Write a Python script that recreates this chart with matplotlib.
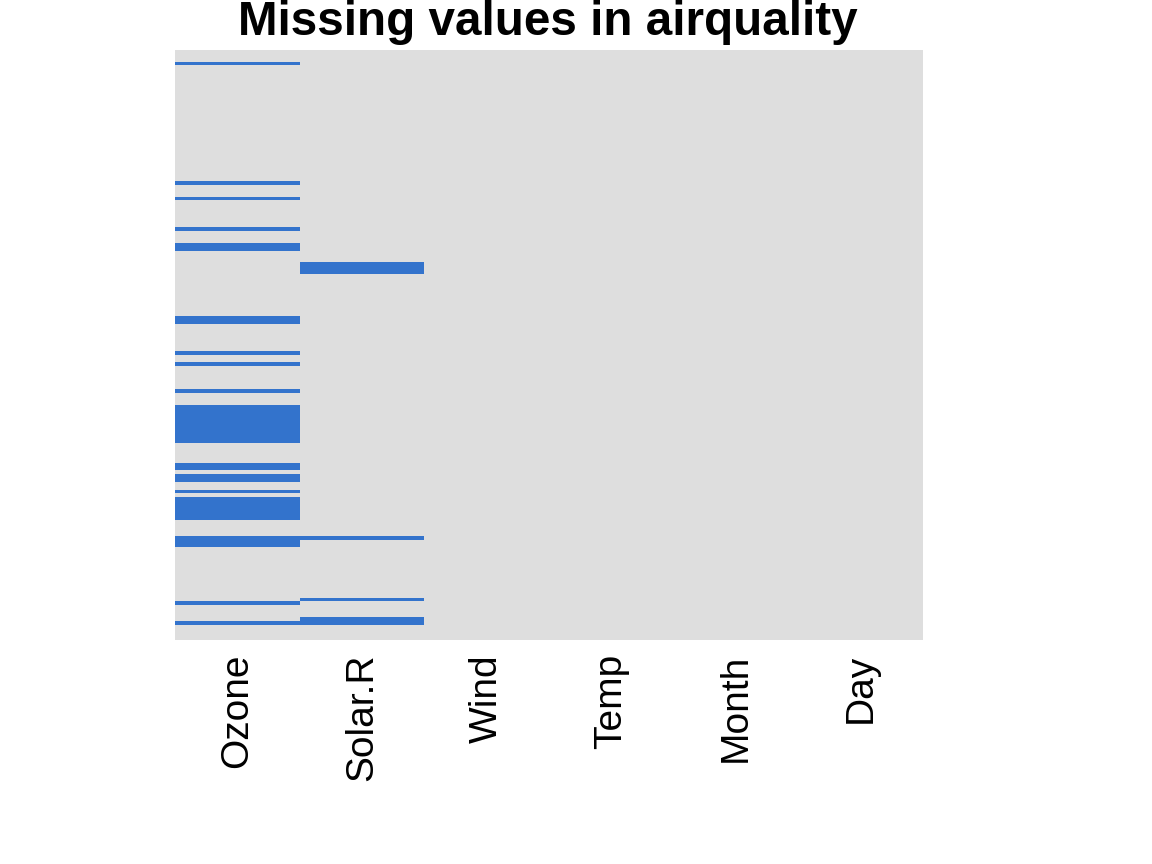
import numpy as np
import matplotlib.pyplot as plt
from matplotlib.colors import ListedColormap

plt.rcParams['font.family'] = ['Liberation Sans', 'DejaVu Sans']

# airquality: 153 rows, missing value row numbers (1-based) per column
columns = ['Ozone', 'Solar.R', 'Wind', 'Temp', 'Month', 'Day']
n_rows = 153
missing = {
    'Ozone': [5, 10, 25, 26, 27, 32, 33, 34, 35, 36, 37, 39, 42, 43, 45, 46,
              52, 53, 54, 55, 56, 57, 58, 59, 60, 61, 65, 72, 75, 83, 84,
              102, 103, 107, 115, 119, 150],
    'Solar.R': [5, 6, 11, 27, 96, 97, 98],
    'Wind': [],
    'Temp': [],
    'Month': [],
    'Day': [],
}

mat = np.zeros((n_rows, len(columns)))
for j, col in enumerate(columns):
    for r in missing[col]:
        mat[r - 1, j] = 1

fig = plt.figure(figsize=(11.52, 8.64), dpi=100)
ax = fig.add_axes([175 / 1152, 1 - 640 / 864, 748 / 1152, 590 / 864])

cmap = ListedColormap(['#dedede', '#3373cc'])
xe = np.arange(len(columns) + 1) + 0.5
ye = np.arange(n_rows + 1) + 0.5
ax.pcolormesh(xe, ye, mat, cmap=cmap, vmin=0, vmax=1)

ax.set_xlim(0.5, len(columns) + 0.5)
ax.set_ylim(0.5, n_rows + 0.5)
ax.set_xticks(np.arange(1, len(columns) + 1))
ax.set_xticklabels(columns, rotation=90, fontsize=28)
ax.set_yticks([])
ax.tick_params(axis='x', length=0, pad=10)
for s in ax.spines.values():
    s.set_visible(False)

fig.text(548 / 1152, 1 - 35 / 864, 'Missing values in airquality',
         ha='center', va='baseline', fontsize=34.3, fontweight='bold')

fig.savefig('out.png', dpi=100)
